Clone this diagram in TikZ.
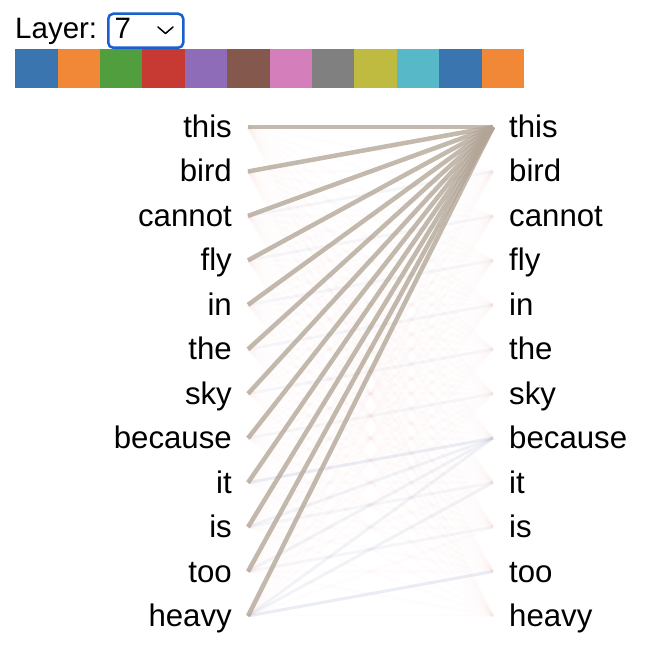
\documentclass[tikz,border=0pt]{standalone}
\usepackage{fontspec}
\setmainfont{Liberation Sans}
\definecolor{hblue}{HTML}{3A75B0}
\definecolor{horange}{HTML}{F08838}
\definecolor{hgreen}{HTML}{509E3D}
\definecolor{hred}{HTML}{C63A33}
\definecolor{hpurple}{HTML}{8F6CB7}
\definecolor{hbrown}{HTML}{84584D}
\definecolor{hpink}{HTML}{D47FBB}
\definecolor{hgray}{HTML}{808080}
\definecolor{holive}{HTML}{BEBB40}
\definecolor{hcyan}{HTML}{57B9C8}
\definecolor{selblue}{HTML}{1A5FD0}
\definecolor{attn}{HTML}{B2A596}
\definecolor{faintred}{HTML}{E09080}
\definecolor{faintblue}{HTML}{90A4D0}
\begin{document}
\begin{tikzpicture}[x=1pt,y=-1pt,
  tok/.style={inner sep=0pt,font=\fontsize{31.2}{36}\selectfont},
  ltok/.style={tok,anchor=base east},
  rtok/.style={tok,anchor=base west},
  strong/.style={draw=attn,line width=4.5pt,opacity=0.78},
  faintr/.style={draw=faintred,line width=3pt,opacity=0.025},
  faintb/.style={draw=faintblue,line width=3pt,opacity=0.11},
  cell/.style={draw=none,minimum width=42.4pt,minimum height=39pt,inner sep=0pt,anchor=north west}
]
\useasboundingbox (0,0) rectangle (650,650);
% header
\node[anchor=base west,inner sep=0pt,font=\fontsize{29.5}{34}\selectfont] (layerlbl) at (15,38.5) {Layer:};
\node[draw=selblue,line width=2.5pt,rounded corners=5pt,minimum width=75pt,minimum height=34pt,inner sep=0pt,anchor=north west] (sel) at (107,12.5) {};
\node[anchor=base west,inner sep=0pt,font=\fontsize{29.5}{34}\selectfont] (selval) at (114.5,38.5) {7};
\coordinate (chA) at (158,27);
\coordinate (chB) at (165.5,33.5);
\coordinate (chC) at (173,27);
\draw[line width=1.5pt,line cap=round,line join=round] (chA) -- (chB) -- (chC);
% colour bar
\foreach \c [count=\i from 0] in {hblue,horange,hgreen,hred,hpurple,hbrown,hpink,hgray,holive,hcyan,hblue,horange}{
  \node[cell,fill=\c] (cell\i) at (15+\i*42.4,48.5) {};
}
% tokens
\foreach \w [count=\i] in {this,bird,cannot,fly,in,the,sky,because,it,is,too,heavy}{
  \pgfmathsetmacro{\yy}{127+(\i-1)*44.45}
  \node[ltok] (l\i) at (232,\yy+10.5) {\w};
  \node[rtok] (r\i) at (509,\yy+10.5) {\w};
  \coordinate (L\i) at (248,\yy);
  \coordinate (R\i) at (493,\yy);
}
% faint background attention
\foreach \i in {1,...,12}{
  \foreach \j in {2,...,12}{
    \draw[faintr] (L\i) -- (R\j);
  }
}
\foreach \i/\j in {3/2,4/3,5/4,6/5,7/6,8/7,9/8,10/9,11/10,12/11}{
  \draw[faintb,opacity=0.07] (L\i) -- (R\j);
}
\foreach \i in {9,10,11,12}{
  \draw[faintb] (L\i) -- (R8);
}
\draw[faintb] (L12) -- (R11);
\draw[faintb] (L12) -- (R9);
% strong attention to "this"
\foreach \i in {1,...,12}{
  \draw[strong] (L\i) -- (R1);
}
\end{tikzpicture}
\end{document}
